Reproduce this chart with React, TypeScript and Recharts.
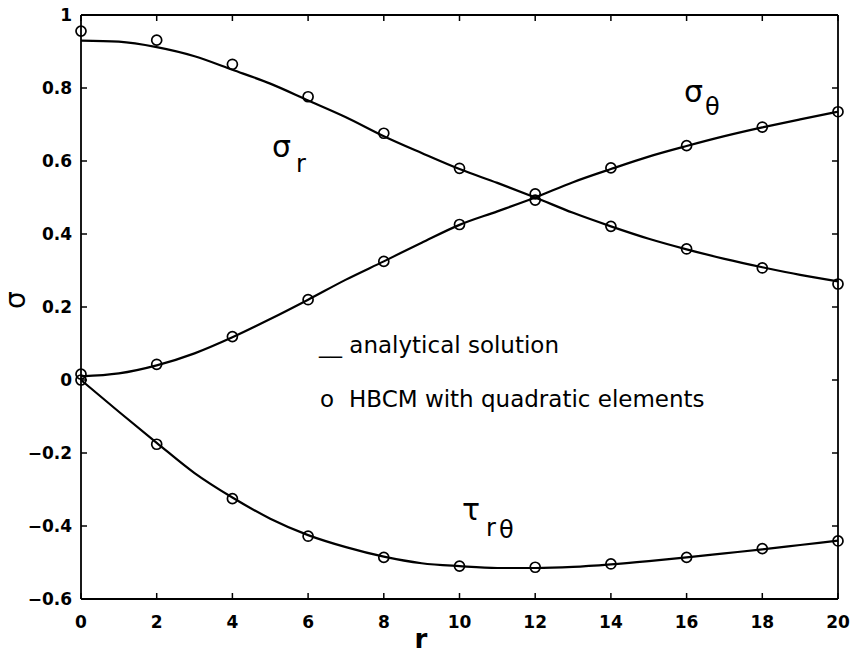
import React from 'react';
import { ComposedChart, Line, XAxis, YAxis } from 'recharts';

const rValues = [0, 1, 2, 3, 4, 5, 6, 7, 8, 9, 10, 11, 12, 13, 14, 15, 16, 17, 18, 19, 20];

// analytical solution
const sigmaRCurve = [0.930, 0.927, 0.912, 0.887, 0.850, 0.812, 0.766, 0.720, 0.668, 0.622, 0.578, 0.540, 0.500, 0.458, 0.421, 0.387, 0.358, 0.332, 0.309, 0.288, 0.270];
const sigmaThetaCurve = [0.010, 0.018, 0.040, 0.073, 0.117, 0.167, 0.220, 0.275, 0.325, 0.376, 0.425, 0.462, 0.500, 0.542, 0.578, 0.612, 0.641, 0.668, 0.692, 0.714, 0.735];
const tauCurve = [0.000, -0.087, -0.172, -0.255, -0.322, -0.380, -0.425, -0.458, -0.484, -0.502, -0.510, -0.515, -0.515, -0.512, -0.505, -0.496, -0.486, -0.475, -0.464, -0.452, -0.440];

// HBCM points at even r
const pointR = [0, 2, 4, 6, 8, 10, 12, 14, 16, 18, 20];
const sigmaRPoints = [0.956, 0.931, 0.865, 0.776, 0.676, 0.580, 0.493, 0.421, 0.359, 0.307, 0.263];
const sigmaThetaPoints = [0.016, 0.043, 0.119, 0.220, 0.325, 0.426, 0.510, 0.581, 0.642, 0.693, 0.735];
const tauPoints = [0.000, -0.176, -0.325, -0.428, -0.486, -0.510, -0.513, -0.504, -0.486, -0.462, -0.441];

const xTicks = [0, 2, 4, 6, 8, 10, 12, 14, 16, 18, 20];
const yTicks = [-0.6, -0.4, -0.2, 0, 0.2, 0.4, 0.6, 0.8, 1];

const data = rValues.map((r, i) => {
  const p = pointR.indexOf(r);
  return {
    r,
    sr: sigmaRCurve[i],
    st: sigmaThetaCurve[i],
    tau: tauCurve[i],
    srP: p >= 0 ? sigmaRPoints[p] : null,
    stP: p >= 0 ? sigmaThetaPoints[p] : null,
    tauP: p >= 0 ? tauPoints[p] : null,
  };
});

const tickFont = { fontFamily: 'DejaVu Sans', fontWeight: 'bold', fontSize: 17, fill: '#000' };
const labelFont = { fontFamily: 'DejaVu Sans', fill: '#000' };
const circle = { r: 5, stroke: '#000', strokeWidth: 1.7, fill: 'none' };
const frame = { stroke: '#000', strokeWidth: 1.8 };

// inward tick marks, drawn at the position recharts gives each tick
const TICK = 6;
const tickMark = (dx: number, dy: number) => (props: any) => (
  <line x1={props.x} y1={props.y} x2={props.x + dx} y2={props.y + dy} stroke="#000" strokeWidth={1.5} />
);

const fmtY = (v: number) => String(v).replace('-', '\u2212');

export default function App() {
  return (
    <div style={{ position: 'absolute', left: 0, top: 0, width: 852, height: 656, background: '#fff' }}>
      <ComposedChart width={852} height={656} data={data} margin={{ top: 15, right: 14, bottom: 0, left: 22 }}>
        <XAxis xAxisId="bt" orientation="bottom" dataKey="r" type="number" domain={[0, 20]} ticks={xTicks}
          height={1} mirror tickSize={TICK} tickMargin={0} tickLine={false} interval={0}
          tick={tickMark(0, TICK)} {...frame} />
        <XAxis xAxisId="tp" orientation="top" dataKey="r" type="number" domain={[0, 20]} ticks={xTicks}
          height={1} mirror tickSize={TICK} tickMargin={0} tickLine={false} interval={0}
          tick={tickMark(0, -TICK)} {...frame} />
        <YAxis yAxisId="lt" orientation="left" type="number" domain={[-0.6, 1]} ticks={yTicks}
          width={1} mirror tickSize={TICK} tickMargin={0} tickLine={false} interval={0}
          tick={tickMark(-TICK, 0)} {...frame} />
        <YAxis yAxisId="rt" orientation="right" type="number" domain={[-0.6, 1]} ticks={yTicks}
          width={1} mirror tickSize={TICK} tickMargin={0} tickLine={false} interval={0}
          tick={tickMark(TICK, 0)} {...frame} />
        <XAxis
          dataKey="r"
          type="number"
          domain={[0, 20]}
          ticks={xTicks}
          interval={0}
          height={57}
          axisLine={false}
          tickLine={false}
          tickMargin={11}
          tick={tickFont}
        />
        <YAxis
          type="number"
          domain={[-0.6, 1]}
          ticks={yTicks}
          interval={0}
          width={59}
          axisLine={false}
          tickLine={false}
          tickMargin={3}
          tickFormatter={fmtY}
          tick={tickFont}
        />
        {/* invisible series that tie the frame axes to the data */}
        <Line xAxisId="bt" yAxisId="lt" dataKey="tau" stroke="none" dot={false} activeDot={false} isAnimationActive={false} />
        <Line xAxisId="tp" yAxisId="rt" dataKey="tau" stroke="none" dot={false} activeDot={false} isAnimationActive={false} />
        <Line type="monotone" dataKey="sr" stroke="#000" strokeWidth={2.2} dot={false} isAnimationActive={false} />
        <Line type="monotone" dataKey="st" stroke="#000" strokeWidth={2.2} dot={false} isAnimationActive={false} />
        <Line type="monotone" dataKey="tau" stroke="#000" strokeWidth={2.2} dot={false} isAnimationActive={false} />
        <Line dataKey="srP" stroke="none" dot={circle} activeDot={false} isAnimationActive={false} />
        <Line dataKey="stP" stroke="none" dot={circle} activeDot={false} isAnimationActive={false} />
        <Line dataKey="tauP" stroke="none" dot={circle} activeDot={false} isAnimationActive={false} />
      </ComposedChart>
      <svg width={852} height={656} style={{ position: 'absolute', left: 0, top: 0, pointerEvents: 'none' }}>
        <text x={272} y={157} fontSize={30} {...labelFont}>σ</text>
        <text x={296} y={172} fontSize={24} {...labelFont}>r</text>
        <text x={684} y={102} fontSize={30} {...labelFont}>σ</text>
        <text x={705} y={115} fontSize={24} {...labelFont}>θ</text>
        <text x={462} y={520} fontSize={30} {...labelFont}>τ</text>
        <text x={486} y={536} fontSize={24} {...labelFont}>r</text>
        <text x={499} y={538} fontSize={24} {...labelFont}>θ</text>
        <text x={319} y={353} fontSize={23} {...labelFont}>__ analytical solution</text>
        <text x={320} y={407} fontSize={23} {...labelFont}>o</text>
        <text x={349} y={407} fontSize={23} {...labelFont}>HBCM with quadratic elements</text>
        <text x={25} y={300} fontSize={28} textAnchor="middle" transform="rotate(-90 25 300)" {...labelFont}>σ</text>
        <text x={421} y={648} fontSize={26} textAnchor="middle" fontWeight="bold" {...labelFont}>r</text>
      </svg>
    </div>
  );
}
